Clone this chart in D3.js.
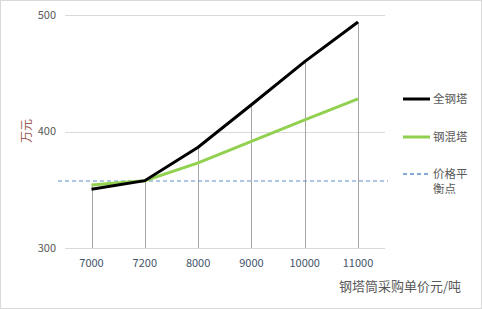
<!DOCTYPE html>
<html>
<head>
<meta charset="utf-8">
<script src="https://cdn.jsdelivr.net/npm/d3@7"></script>
<style>
  body { margin: 0; background: #fff; }
  text { font-family: "Noto Sans CJK SC", "Noto Sans", sans-serif; }
</style>
</head>
<body>
<script>
var prices = ["7000", "7200", "8000", "9000", "10000", "11000"];
var steelTower = [350.5, 357.8, 386.5, 423, 460, 494];
var hybridTower = [354, 357.8, 373, 391.5, 410, 428];
var breakEven = 357.5;
var yTicks = [300, 400, 500];
var seriesNames = ["全钢塔", "钢混塔", "价格平衡点"];

var W = 482, H = 309;
var svg = d3.select("body").append("svg")
  .attr("width", W)
  .attr("height", H);

svg.append("rect")
  .attr("x", 0.5).attr("y", 0.5)
  .attr("width", W - 1).attr("height", H - 1)
  .attr("fill", "#fff")
  .attr("stroke", "#d9d9d9");

var x = d3.scalePoint()
  .domain(prices)
  .range([91.5, 358])
  .padding(0);

var y = d3.scaleLinear()
  .domain([300, 500])
  .range([248, 15]);

// gridlines
svg.append("g")
  .selectAll("line")
  .data(yTicks)
  .enter().append("line")
  .attr("x1", 65).attr("x2", 385)
  .attr("y1", function (d) { return Math.round(y(d)) + 0.5; })
  .attr("y2", function (d) { return Math.round(y(d)) + 0.5; })
  .attr("stroke", "#d9d9d9");

// y tick labels
svg.append("g")
  .selectAll("text")
  .data(yTicks)
  .enter().append("text")
  .attr("x", 56)
  .attr("y", function (d) { return y(d); })
  .attr("dy", "0.35em")
  .attr("text-anchor", "end")
  .attr("font-size", 11)
  .attr("fill", "#595959")
  .text(function (d) { return d; });

// x tick labels
svg.append("g")
  .selectAll("text")
  .data(prices)
  .enter().append("text")
  .attr("x", function (d) { return x(d); })
  .attr("y", 263)
  .attr("dy", "0.35em")
  .attr("text-anchor", "middle")
  .attr("font-size", 11)
  .attr("fill", "#44546a")
  .text(function (d) { return d; });

// drop lines
svg.append("g")
  .selectAll("line")
  .data(prices)
  .enter().append("line")
  .attr("x1", function (d) { return Math.round(x(d)) + 0.5; })
  .attr("x2", function (d) { return Math.round(x(d)) + 0.5; })
  .attr("y1", function (d, i) { return y(Math.max(steelTower[i], hybridTower[i])); })
  .attr("y2", y(300))
  .attr("stroke", "#a6a6a6");

// break-even dashed line
svg.append("line")
  .attr("x1", 58).attr("x2", 388)
  .attr("y1", y(breakEven)).attr("y2", y(breakEven))
  .attr("stroke", "#5b8fc9")
  .attr("stroke-dasharray", "4,3");

var line = d3.line()
  .x(function (d, i) { return x(prices[i]); })
  .y(function (d) { return y(d); });

svg.append("path")
  .datum(hybridTower)
  .attr("d", line)
  .attr("fill", "none")
  .attr("stroke", "#92d050")
  .attr("stroke-width", 3);

svg.append("path")
  .datum(steelTower)
  .attr("d", line)
  .attr("fill", "none")
  .attr("stroke", "#000")
  .attr("stroke-width", 3);

// axis titles
svg.append("text")
  .attr("transform", "translate(27,131)rotate(-90)")
  .attr("text-anchor", "middle")
  .attr("dy", "0.35em")
  .attr("font-size", 12)
  .attr("fill", "#9a5a55")
  .text("万元");

svg.append("text")
  .attr("x", 400)
  .attr("y", 286)
  .attr("dy", "0.35em")
  .attr("text-anchor", "middle")
  .attr("font-size", 13)
  .attr("fill", "#595959")
  .text("钢塔筒采购单价元/吨");

// legend
var legend = svg.append("g");
var legendY = [99, 137, 174];
var legendStyle = [
  { stroke: "#000", width: 3, dash: null },
  { stroke: "#92d050", width: 3, dash: null },
  { stroke: "#5b8fc9", width: 1.5, dash: "4,3" }
];
seriesNames.forEach(function (name, i) {
  legend.append("line")
    .attr("x1", 403).attr("x2", 430)
    .attr("y1", legendY[i]).attr("y2", legendY[i])
    .attr("stroke", legendStyle[i].stroke)
    .attr("stroke-width", legendStyle[i].width)
    .attr("stroke-dasharray", legendStyle[i].dash);
  var t = legend.append("text")
    .attr("x", 433)
    .attr("y", legendY[i])
    .attr("dy", "0.35em")
    .attr("font-size", 11.5)
    .attr("fill", "#595959");
  if (name.length > 3) {
    t.append("tspan").attr("x", 433).text(name.slice(0, 3));
    t.append("tspan").attr("x", 433).attr("dy", 15).text(name.slice(3));
  } else {
    t.text(name);
  }
});
</script>
</body>
</html>
